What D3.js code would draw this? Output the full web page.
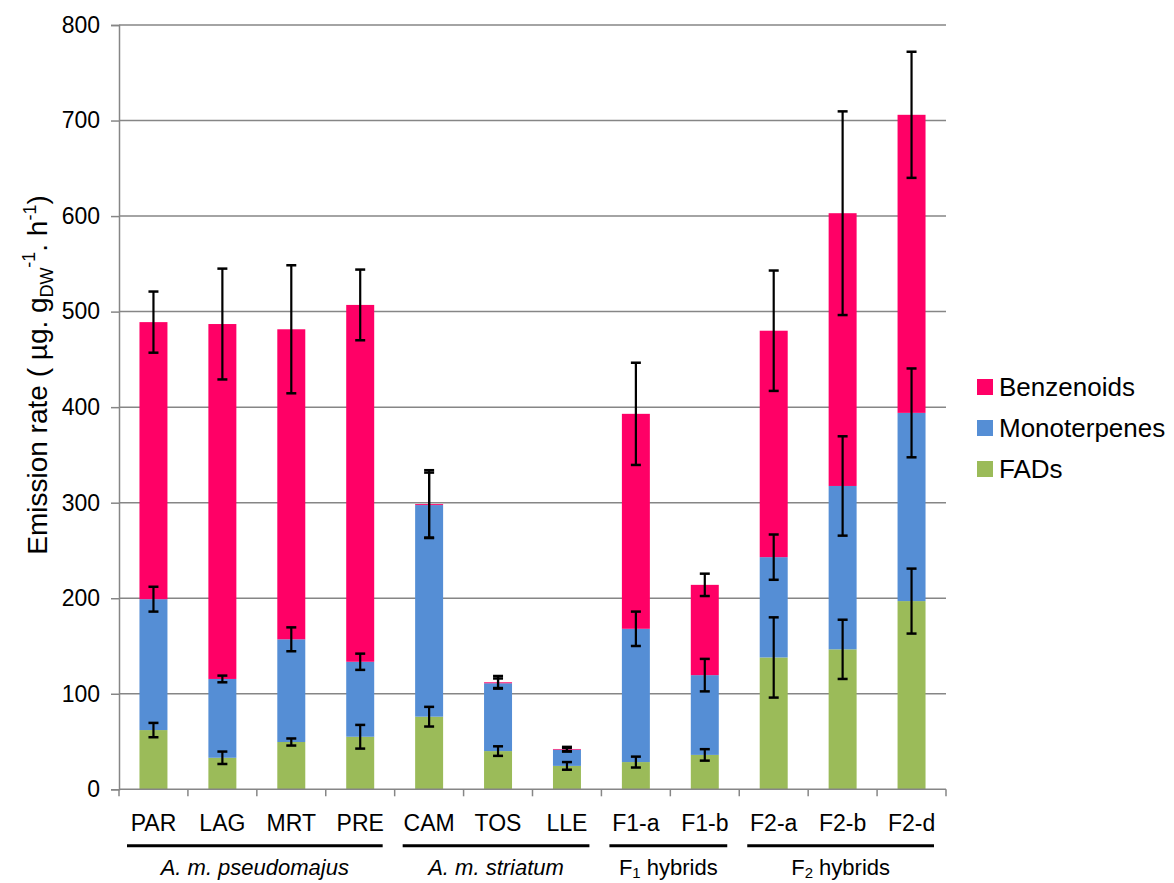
<!DOCTYPE html>
<html>
<head>
<meta charset="utf-8">
<script src="https://cdn.jsdelivr.net/npm/d3@7"></script>
<style>
  html, body { margin: 0; padding: 0; background: #fff; }
  svg { display: block; }
  text { font-family: "Liberation Sans", Arial, sans-serif; fill: #000; }
</style>
</head>
<body>
<svg id="chart" width="1174" height="883"></svg>
<script>
// ---- data ----
const categories = ["PAR", "LAG", "MRT", "PRE", "CAM", "TOS", "LLE", "F1-a", "F1-b", "F2-a", "F2-b", "F2-d"];
const fads        = [62, 33, 49.5, 55, 76, 40, 24.5, 28.5, 36, 138, 146.5, 197];
const monoterpenes= [137, 82.5, 107.5, 78.5, 221.5, 71, 17, 139.5, 83.5, 105, 171, 197];
const benzenoids  = [290, 371.5, 324.5, 373.5, 1, 1, 0.7, 225, 94.5, 237, 285.5, 312];
const fadsErr     = [7.5, 6.5, 3.7, 12.4, 10.3, 5, 4, 5.7, 6, 42, 31, 34];
const monoErr     = [13, 3.5, 12.5, 8.5, 34, 5, 2, 18, 17, 23.7, 52, 46.5];
const benzErr     = [32, 58, 67, 37, 35.5, 6.6, 2.2, 53.5, 11.7, 63, 106.6, 66];
const yTicks      = [0, 100, 200, 300, 400, 500, 600, 700, 800];
const seriesNames = ["FADs", "Monoterpenes", "Benzenoids"];
const seriesColors= ["#9BBB59", "#558ED5", "#FF0066"];
const groups = [
  {first: "PAR", last: "PRE", label: "A. m. pseudomajus", italic: true},
  {first: "CAM", last: "LLE", label: "A. m. striatum", italic: true},
  {first: "F1-a", last: "F1-b", label: "F", sub: "1", rest: " hybrids", italic: false},
  {first: "F2-a", last: "F2-d", label: "F", sub: "2", rest: " hybrids", italic: false}
];

(function () {
// ---- layout ----
const svg = d3.select("#chart");
const pLeft = 119, pRight = 946, pTop = 25, pBottom = 789.3;
const x = d3.scaleBand().domain(categories).range([pLeft, pRight]).paddingInner(0.594).paddingOuter(0.297);
const y = d3.scaleLinear().domain([0, 800]).range([pBottom, pTop]);
const grid = "#868686";

const table = categories.map((c, i) => ({cat: c, FADs: fads[i], Monoterpenes: monoterpenes[i], Benzenoids: benzenoids[i]}));
const stacked = d3.stack().keys(seriesNames)(table);
const errs = [fadsErr, monoErr, benzErr];

// gridlines
svg.append("g").selectAll("line").data(yTicks.filter(d => d > 0)).join("line")
  .attr("x1", pLeft).attr("x2", pRight)
  .attr("y1", d => y(d)).attr("y2", d => y(d))
  .attr("stroke", grid).attr("stroke-width", 1.5);

// bars
stacked.forEach((s, si) => {
  svg.append("g").selectAll("rect").data(s).join("rect")
    .attr("x", d => x(d.data.cat))
    .attr("width", x.bandwidth())
    .attr("y", d => y(d[1]))
    .attr("height", d => y(d[0]) - y(d[1]))
    .attr("fill", seriesColors[si]);
});

// y axis
const yAxis = svg.append("g").attr("transform", `translate(${pLeft},0)`)
  .call(d3.axisLeft(y).tickValues(yTicks).tickSize(8).tickPadding(11).tickFormat(d3.format("d")));
yAxis.select(".domain").attr("stroke", grid).attr("stroke-width", 1.5);
yAxis.selectAll(".tick line").attr("stroke", grid).attr("stroke-width", 1.5);
yAxis.selectAll(".tick text").attr("font-size", 23).attr("font-family", "Liberation Sans, Arial, sans-serif").attr("fill", "#000");

// x axis line and boundary ticks
const step = x.step();
const bounds = d3.range(categories.length + 1).map(i => (i < categories.length ? x(categories[i]) - step * x.paddingInner() / 2 : x(categories[i - 1]) + x.bandwidth() + step * x.paddingInner() / 2));
svg.append("line").attr("x1", pLeft).attr("x2", pRight).attr("y1", pBottom).attr("y2", pBottom)
  .attr("stroke", grid).attr("stroke-width", 1.5);
svg.append("g").selectAll("line").data(bounds).join("line")
  .attr("x1", d => d).attr("x2", d => d).attr("y1", pBottom).attr("y2", pBottom + 7)
  .attr("stroke", grid).attr("stroke-width", 1.5);

// error bars
stacked.forEach((s, si) => {
  const g = svg.append("g").attr("stroke", "#000").attr("stroke-width", 2.2);
  s.forEach((d, i) => {
    const e = errs[si][i];
    const cx = x(d.data.cat) + x.bandwidth() / 2;
    const yTop = y(d[1] + e), yBot = y(d[1] - e);
    g.append("line").attr("x1", cx).attr("x2", cx).attr("y1", yTop).attr("y2", yBot);
    g.append("line").attr("x1", cx - 5).attr("x2", cx + 5).attr("y1", yTop).attr("y2", yTop).attr("stroke-width", 2.5);
    g.append("line").attr("x1", cx - 5).attr("x2", cx + 5).attr("y1", yBot).attr("y2", yBot).attr("stroke-width", 2.5);
  });
});

// category labels
svg.append("g").selectAll("text").data(categories).join("text")
  .attr("x", d => x(d) + x.bandwidth() / 2).attr("y", 831)
  .attr("text-anchor", "middle").attr("font-size", 23).text(d => d);

// group lines and labels
groups.forEach(gr => {
  const b0 = x(gr.first) - step * x.paddingInner() / 2;
  const b1 = x(gr.last) + x.bandwidth() + step * x.paddingInner() / 2;
  const x1 = b0 + 8, x2 = b1 - 12;
  svg.append("line").attr("x1", x1).attr("x2", x2).attr("y1", 845.7).attr("y2", 845.7)
    .attr("stroke", "#000").attr("stroke-width", 3);
  const t = svg.append("text").attr("x", (x1 + x2) / 2).attr("y", 875)
    .attr("text-anchor", "middle").attr("font-size", 22)
    .attr("font-family", "'Open Sans', 'Liberation Sans', sans-serif");
  if (gr.italic) {
    t.attr("font-style", "italic").text(gr.label);
  } else {
    t.append("tspan").text(gr.label);
    t.append("tspan").attr("font-size", 15).attr("dy", 3).text(gr.sub);
    t.append("tspan").attr("dy", -3).text(gr.rest);
  }
});

// y axis title
const title = svg.append("text").attr("transform", "translate(47,375) rotate(-90)")
  .attr("text-anchor", "middle").attr("font-size", 28);
title.append("tspan").text("Emission rate ( µg. g");
title.append("tspan").attr("font-size", 18).attr("dy", 6).text("DW");
title.append("tspan").attr("font-size", 18).attr("dy", -18).text("-1");
title.append("tspan").attr("dy", 12).text(". h");
title.append("tspan").attr("font-size", 18).attr("dy", -11).text("-1");
title.append("tspan").attr("dy", 11).text(")");

// legend
const legendItems = [2, 1, 0];
const lg = svg.append("g");
legendItems.forEach((si, k) => {
  const cy = 387 + k * 41;
  lg.append("rect").attr("x", 977).attr("y", cy - 8).attr("width", 16).attr("height", 16).attr("fill", seriesColors[si]);
  lg.append("text").attr("x", 999).attr("y", cy + 9).attr("font-size", 26).text(seriesNames[si]);
});
})();
</script>
</body>
</html>
